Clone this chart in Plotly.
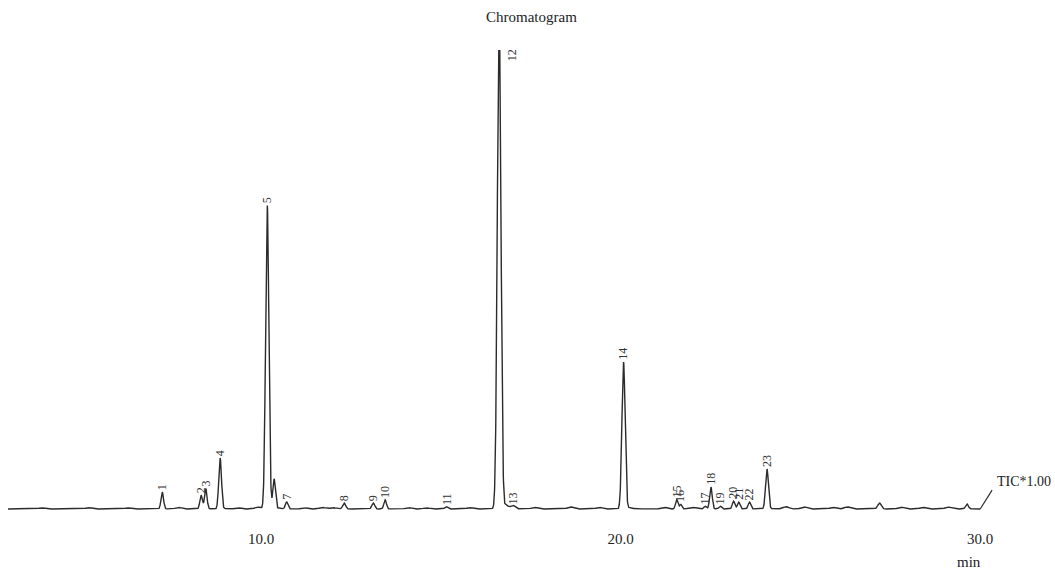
import numpy as np
import plotly.graph_objects as go

# ---- data ----
peak_times = [7.25, 8.33, 8.46, 8.86, 10.17, 10.36, 10.71, 12.31, 13.12, 13.45, 15.15,
              16.62, 17.01, 20.08, 21.56, 21.67, 22.35, 22.51, 22.77, 23.14, 23.28,
              23.58, 24.07, 27.20, 29.63]
peak_heights = [3.7, 3.0, 4.4, 11.1, 66.2, 6.1, 1.5, 1.3, 1.3, 2.0, 0.5,
                108.0, 0.6, 32.0, 2.0, 1.0, 0.6, 4.8, 0.6, 1.7, 1.5,
                1.5, 8.7, 1.3, 1.1]
peak_widths = [0.035, 0.035, 0.035, 0.038, 0.045, 0.035, 0.035, 0.04, 0.04, 0.035, 0.04,
               0.05, 0.05, 0.045, 0.035, 0.03, 0.035, 0.035, 0.035, 0.035, 0.035,
               0.035, 0.04, 0.05, 0.04]
peak_labels = ["1", "2", "3", "4", "5", "", "7", "8", "9", "10", "11",
               "12", "13", "14", "15", "16", "17", "18", "19", "20", "21",
               "22", "23", "", ""]

minor_times = [3.9, 5.2, 6.3, 7.7, 9.35, 9.9, 11.2, 11.7, 12.0, 14.1, 14.6, 15.8,
               17.6, 18.6, 19.4, 21.2, 22.0, 24.6, 25.1, 25.9, 26.3, 27.8, 28.4, 29.1]
minor_heights = [0.25, 0.3, 0.25, 0.35, 0.3, 0.4, 0.3, 0.35, 0.3, 0.3, 0.25, 0.3,
                 0.35, 0.45, 0.35, 0.4, 0.35, 0.5, 0.45, 0.35, 0.45, 0.4, 0.35, 0.4]

x_ticks = [10.0, 20.0, 30.0]
x_ticktext = ["10.0", "20.0", "30.0"]

t_start, t_end = 2.96, 30.0

# ---- build trace from peak table ----
t = np.arange(t_start, t_end + 1e-9, 0.004)
signal = np.zeros_like(t)
for c, h, w in zip(peak_times, peak_heights, peak_widths):
    left = np.exp(-0.5 * ((t - c) / w) ** 2)
    tail = np.where(t > c, np.exp(-(t - c) / (w * 2.5)) * 0.04, 0)
    signal += h * np.maximum(left, tail * (t > c + w))
for c, h in zip(minor_times, minor_heights):
    signal += h * np.exp(-0.5 * ((t - c) / 0.08) ** 2)

FONT = "Liberation Serif"
fig = go.Figure()
fig.add_trace(go.Scatter(x=t, y=signal, mode="lines",
                         line=dict(color="#2b2b2b", width=1.4),
                         hoverinfo="skip", showlegend=False))

y_max = 100
annotations = []
for c, h, lab in zip(peak_times, peak_heights, peak_labels):
    if not lab:
        continue
    if h > y_max:
        annotations.append(dict(x=c, y=y_max, text=lab, textangle=-90, showarrow=False,
                                xanchor="center", yanchor="top", xshift=13, yshift=3,
                                font=dict(family=FONT, size=12, color="#333")))
    else:
        annotations.append(dict(x=c, y=h, text=lab, textangle=-90, showarrow=False,
                                xanchor="center", yanchor="bottom", yshift=0,
                                font=dict(family=FONT, size=12, color="#333")))

annotations.append(dict(x=0.5, y=1, xref="paper", yref="paper", text="Chromatogram",
                        showarrow=False, xanchor="center", yanchor="middle", yshift=33,
                        font=dict(family=FONT, size=15, color="#222")))
annotations.append(dict(x=30.4, y=5.9, text="TIC*1.00", showarrow=False,
                        xanchor="left", yanchor="middle",
                        font=dict(family=FONT, size=14, color="#222")))
annotations.append(dict(x=29.69, y=0, yref="paper", text="min", showarrow=False,
                        xanchor="center", yanchor="middle", yshift=-42,
                        font=dict(family=FONT, size=15, color="#222")))

fig.add_shape(type="line", x0=30.0, y0=0, x1=30.33, y1=4.1,
              line=dict(color="#2b2b2b", width=1.2))

fig.update_layout(
    width=1055, height=569,
    margin=dict(l=8, r=0, t=50, b=49),
    paper_bgcolor="white", plot_bgcolor="white",
    annotations=annotations,
    xaxis=dict(range=[2.96, 32.08], tickvals=x_ticks, ticktext=x_ticktext,
               showgrid=False, zeroline=False, showline=False, ticks="",
               ticklabelstandoff=8,
               tickfont=dict(family=FONT, size=15, color="#222")),
    yaxis=dict(range=[-2.4, y_max], visible=False, showgrid=False, zeroline=False),
)

fig.write_html("out.html", config={"displayModeBar": False},
               post_script="document.body.style.margin='0';document.body.style.overflow='hidden';")
